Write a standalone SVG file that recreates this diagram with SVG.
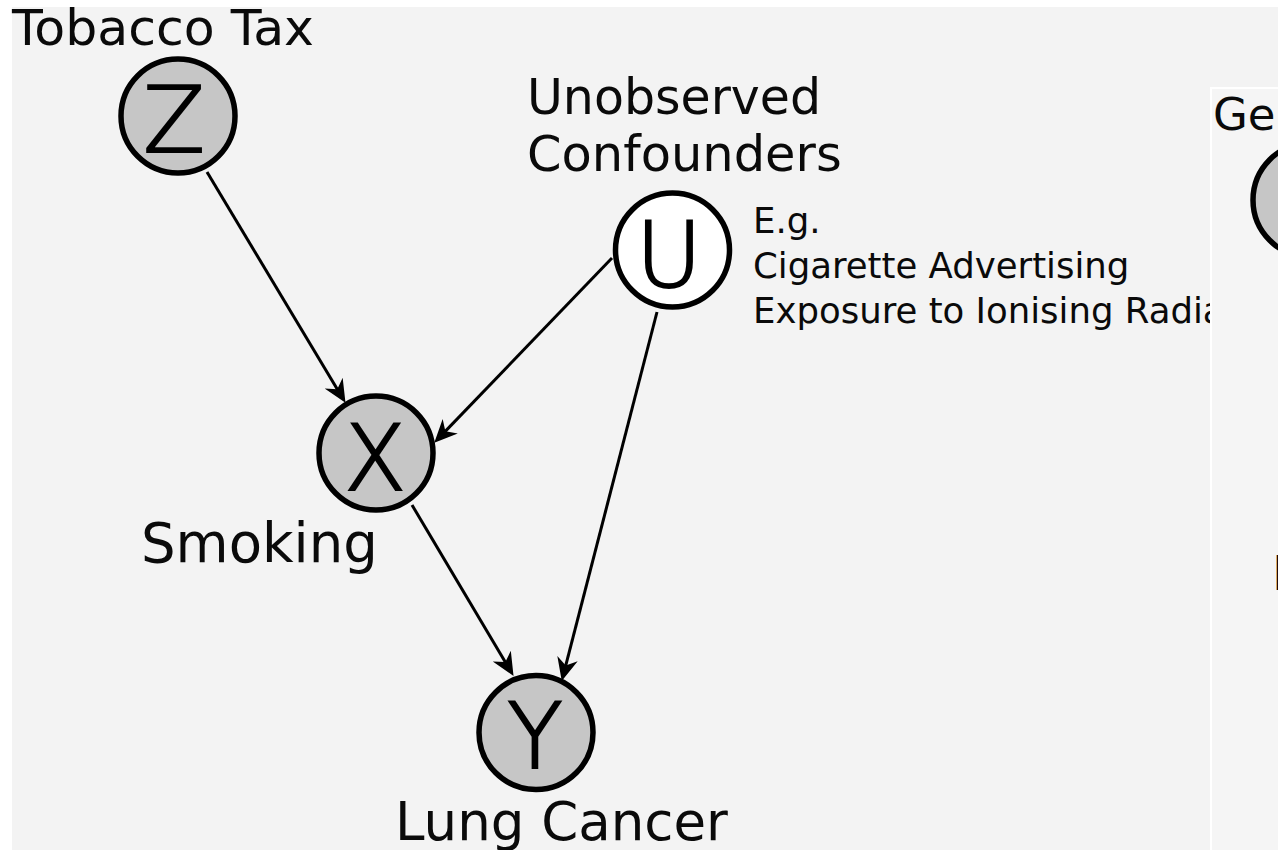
<svg xmlns="http://www.w3.org/2000/svg" width="1278" height="850" viewBox="0 0 1278 850">
  <style>
    .lbl { font-family: "DejaVu Sans", "Liberation Sans", sans-serif; fill: #0a0a0a; }
    .var { font-family: "DejaVu Sans", "Liberation Sans", sans-serif; font-weight: 200; font-size: 90px; fill: #000; stroke: #000; stroke-width: 2.2; text-anchor: middle; }
    .obs { fill: #c6c6c6; stroke: #000; stroke-width: 5.5; }
    .lat { fill: #ffffff; stroke: #000; stroke-width: 5.5; }
    .edge { stroke: #000; stroke-width: 3; fill: none; marker-end: url(#arr); }
  </style>
  <defs>
    <marker id="arr" markerUnits="userSpaceOnUse" markerWidth="26" markerHeight="24" viewBox="0 -12 26 24" refX="10" refY="0" orient="auto">
      <path d="M23,0 L0,-10.5 L7,0 L0,10.5 Z" fill="#000"/>
    </marker>
  </defs>

  <rect x="0" y="0" width="1278" height="850" fill="#ffffff"/>
  <rect x="12" y="7" width="1266" height="843" fill="#f3f3f3"/>

  <g id="label-tobacco">
    <text class="lbl" x="12" y="45" font-size="50.5">Tobacco Tax</text>
  </g>
  <g id="label-unobserved">
    <text class="lbl" x="527" y="114" font-size="49">Unobserved</text>
    <text class="lbl" x="527" y="171" font-size="49.5">Confounders</text>
  </g>
  <g id="label-examples">
    <text class="lbl" x="753" y="233" font-size="35.5">E.g.</text>
    <text class="lbl" x="753" y="278" font-size="35.5">Cigarette Advertising</text>
    <text class="lbl" x="753" y="323" font-size="35.5">Exposure to Ionising Radiation</text>
  </g>
  <g id="label-smoking">
    <text class="lbl" x="141" y="562" font-size="54.5">Smoking</text>
  </g>
  <g id="label-lung">
    <text class="lbl" x="395" y="840" font-size="53">Lung Cancer</text>
  </g>

  <g id="node-Z">
    <circle class="obs" cx="178" cy="116" r="57"/>
    <text class="var" x="174" y="152">Z</text>
  </g>
  <g id="node-U">
    <circle class="lat" cx="672.5" cy="250" r="57"/>
    <text class="var" x="669" y="287">U</text>
  </g>
  <g id="node-X">
    <circle class="obs" cx="376" cy="453" r="57"/>
    <text class="var" x="375" y="490">X</text>
  </g>
  <g id="node-Y">
    <circle class="obs" cx="536" cy="732.5" r="57"/>
    <text class="var" x="535" y="768">Y</text>
  </g>

  <g id="connectors">
    <line class="edge" x1="207" y1="172" x2="338.8" y2="391.7"/>
    <line class="edge" x1="612" y1="258" x2="443.3" y2="433.4"/>
    <line class="edge" x1="657" y1="312" x2="565" y2="668.4"/>
    <line class="edge" x1="412" y1="505" x2="506.9" y2="664.7"/>
  </g>

  <g id="right-panel">
    <rect x="1210" y="87" width="68" height="763" fill="#ffffff"/>
    <rect x="1212" y="89" width="66" height="761" fill="#f5f5f5"/>
    <text class="lbl" x="1213" y="130" font-size="45">Gen</text>
    <circle class="obs" cx="1310" cy="200" r="57"/>
    <text class="var" x="1308" y="236">G</text>
    <text class="lbl" x="1272" y="590" font-size="48">E</text>
  </g>
</svg>
